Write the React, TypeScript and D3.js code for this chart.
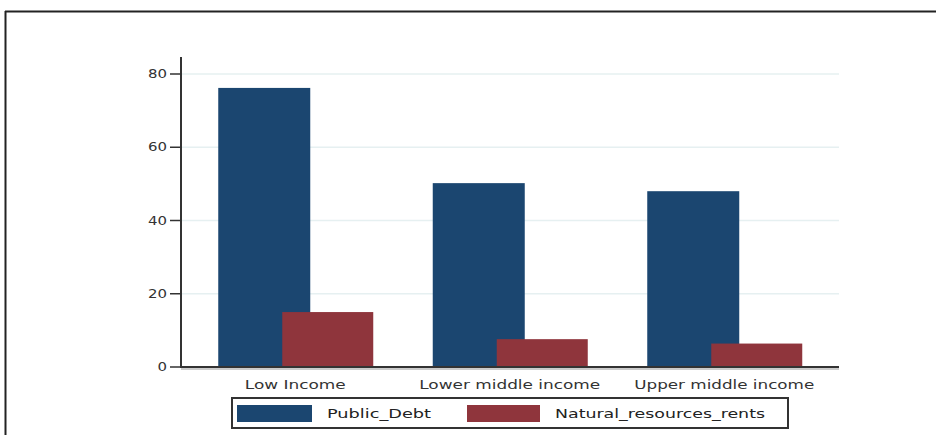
import * as d3 from 'd3';

const categories = ['Low Income', 'Lower middle income', 'Upper middle income'];
const publicDebt = [76.2, 50.2, 48.0];
const naturalRents = [15.0, 7.6, 6.4];
const yTicks = [0, 20, 40, 60, 80];
const seriesNames = ['Public_Debt', 'Natural_resources_rents'];

const BLUE = '#1b4670';
const RED = '#8f353c';
const GRID = '#e6f0f1';
const FONT = '"DejaVu Sans", Verdana, sans-serif';

const W = 936;
const H = 435;
const plotLeft = 181;
const plotRight = 839;
const baseY = 367;

const x = d3.scaleBand<string>().domain(categories).range([188, 831.5]);
const y = d3.scaleLinear().domain([0, 80]).range([baseY, 74]);

const labelWidths = [101, 181, 180];
const barW = 92;

export default function App() {
    const half = x.bandwidth() / 2;
    return (
        <div style={{ position: 'absolute', left: 0, top: 0 }}>
            <svg width={W} height={H} style={{ display: 'block', background: 'white' }}>
                {/* outer frame */}
                <line x1={5} x2={W} y1={11.5} y2={11.5} stroke="#222" strokeWidth={2} />
                <line x1={5.5} x2={5.5} y1={11} y2={H} stroke="#222" strokeWidth={2} />

                {/* gridlines */}
                {yTicks.filter(t => t > 0).map(t => (
                    <line key={t} x1={plotLeft} x2={plotRight} y1={y(t)} y2={y(t)}
                        stroke={GRID} strokeWidth={1.5} />
                ))}

                {/* bars */}
                {categories.map((c, i) => {
                    const cx = (x(c) ?? 0) + half;
                    return (
                        <g key={c}>
                            <rect x={cx - 77} y={y(publicDebt[i])} width={barW}
                                height={baseY - y(publicDebt[i])} fill={BLUE} />
                            <rect x={cx - 13} y={y(naturalRents[i])} width={barW - 1}
                                height={baseY - y(naturalRents[i])} fill={RED} />
                        </g>
                    );
                })}

                {/* y axis */}
                <line x1={plotLeft} x2={plotLeft} y1={57} y2={baseY + 1} stroke="#333" strokeWidth={2} />
                {yTicks.map(t => {
                    const label = String(t);
                    return (
                        <g key={t}>
                            <line x1={plotLeft - 11} x2={plotLeft} y1={y(t)} y2={y(t)} stroke="#333" strokeWidth={1.5} />
                            <text x={167} y={y(t) + 4} textAnchor="end" fontFamily={FONT} fontSize={12}
                                fill="#333" textLength={label.length * 9.5}
                                lengthAdjust="spacingAndGlyphs">{label}</text>
                        </g>
                    );
                })}

                {/* x axis */}
                <line x1={plotLeft} x2={plotRight} y1={baseY} y2={baseY} stroke="#333" strokeWidth={2} />
                <line x1={plotLeft} x2={plotRight} y1={baseY + 2} y2={baseY + 2} stroke="#bbb" strokeWidth={1.5} />
                {categories.map((c, i) => {
                    const cx = (x(c) ?? 0) + half;
                    return (
                        <text key={c} x={cx - labelWidths[i] / 2} y={389} fontFamily={FONT} fontSize={12}
                            fill="#333" textLength={labelWidths[i]} lengthAdjust="spacingAndGlyphs">{c}</text>
                    );
                })}

                {/* legend */}
                <rect x={232} y={398} width={556} height={30} fill="white" stroke="#333" strokeWidth={2} />
                <rect x={237} y={405} width={75} height={17} fill={BLUE} />
                <text x={327} y={418} fontFamily={FONT} fontSize={12.5} fill="#222"
                    textLength={104} lengthAdjust="spacingAndGlyphs">{seriesNames[0]}</text>
                <rect x={467} y={405} width={73} height={17} fill={RED} />
                <text x={555} y={418} fontFamily={FONT} fontSize={12.5} fill="#222"
                    textLength={210} lengthAdjust="spacingAndGlyphs">{seriesNames[1]}</text>
            </svg>
        </div>
    );
}
